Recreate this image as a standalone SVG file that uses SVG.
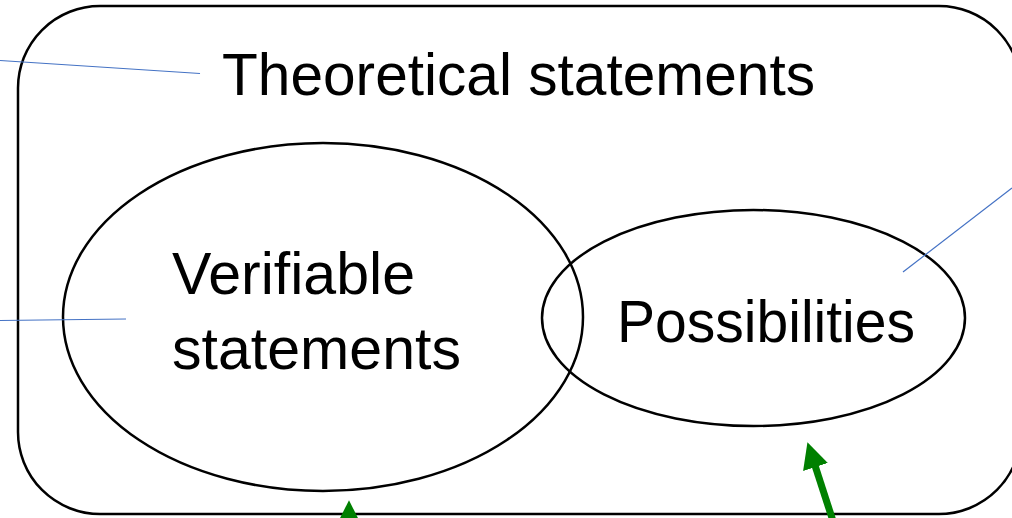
<svg xmlns="http://www.w3.org/2000/svg" width="1012" height="518" viewBox="0 0 1012 518">
  <style>
    .shape { fill: none; stroke: #000; stroke-width: 2.5; }
    .label { font-family: "Liberation Sans", Arial, sans-serif; font-size: 59px; fill: #000; }
    .pointer { stroke: #4472C4; stroke-width: 1.2; fill: none; }
    .arrow { stroke: #008000; stroke-width: 7; fill: none; }
  </style>
  <defs>
    <marker id="greenHead" markerUnits="userSpaceOnUse" markerWidth="26" markerHeight="26" viewBox="0 0 24 24" refX="2" refY="12" orient="auto">
      <path d="M0,0 L24,12 L0,24 z" fill="#008000"/>
    </marker>
  </defs>

  <rect width="1012" height="518" fill="#fff"/>

  <g id="theoretical">
    <rect class="shape" x="18" y="6" width="1003" height="508" rx="82" ry="82"/>
    <text class="label" x="222" y="95" textLength="593" lengthAdjust="spacingAndGlyphs">Theoretical statements</text>
  </g>

  <g id="verifiable">
    <ellipse class="shape" cx="323" cy="317" rx="260" ry="174"/>
    <text class="label" x="172" y="294" textLength="243" lengthAdjust="spacingAndGlyphs">Verifiable</text>
    <text class="label" x="172" y="369" textLength="289" lengthAdjust="spacingAndGlyphs">statements</text>
  </g>

  <g id="possibilities">
    <ellipse class="shape" cx="753.5" cy="318" rx="211.5" ry="108"/>
    <text class="label" x="617" y="342" textLength="298" lengthAdjust="spacingAndGlyphs">Possibilities</text>
  </g>

  <g id="connectors">
    <line class="pointer" x1="0" y1="60.5" x2="200" y2="73.5"/>
    <line class="pointer" x1="0" y1="320.5" x2="126" y2="319"/>
    <line class="pointer" x1="1012" y1="188" x2="903" y2="272"/>
    <line class="arrow" x1="349" y1="540" x2="349" y2="524" marker-end="url(#greenHead)"/>
    <line class="arrow" x1="836.4" y1="531.5" x2="814.8" y2="464.9" marker-end="url(#greenHead)"/>
  </g>
</svg>
